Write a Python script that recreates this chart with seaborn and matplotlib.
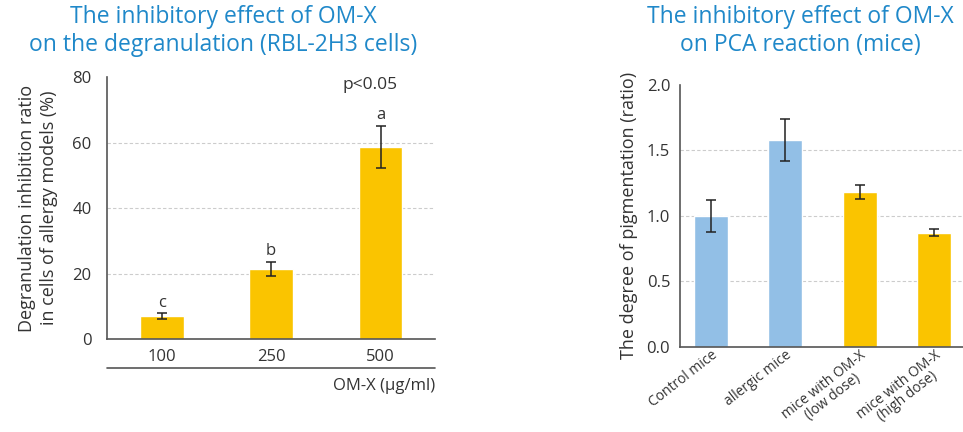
import matplotlib
matplotlib.use("Agg")
import matplotlib.pyplot as plt
import seaborn as sns
import pandas as pd
from matplotlib.lines import Line2D

# ---- data ----
doses = ["100", "250", "500"]
degran_values = [7.1, 21.5, 58.8]
degran_errors = [0.85, 2.1, 6.4]
degran_letters = ["c", "b", "a"]

groups = ["Control mice", "allergic mice", "mice with OM-X\n(low dose)", "mice with OM-X\n(high dose)"]
pig_values = [1.0, 1.578, 1.183, 0.873]
pig_errors = [0.125, 0.162, 0.051, 0.023]

BLUE = "#92bfe6"
GOLD = "#fac400"
TITLE_C = "#1f88c9"
TEXT_C = "#333333"
SPINE_C = "#555555"
group_colors = [BLUE, BLUE, GOLD, GOLD]

sns.set_theme(style="white")
plt.rcParams["font.family"] = ["Open Sans", "DejaVu Sans"]

fig = plt.figure(figsize=(9.63, 4.32), dpi=100)

# ---------- titles ----------
fig.text(223 / 963, 1 - 17 / 432, "The inhibitory effect of OM-X", ha="center", va="center",
         fontsize=16.5, color=TITLE_C)
fig.text(223 / 963, 1 - 45 / 432, "on the degranulation (RBL-2H3 cells)", ha="center", va="center",
         fontsize=16.5, color=TITLE_C)
fig.text(800 / 963, 1 - 17 / 432, "The inhibitory effect of OM-X", ha="center", va="center",
         fontsize=16.5, color=TITLE_C)
fig.text(800 / 963, 1 - 45 / 432, "on PCA reaction (mice)", ha="center", va="center",
         fontsize=16.5, color=TITLE_C)

# ---------- left panel ----------
ax1 = fig.add_axes([0.111, 0.2146, 0.341, 0.607])
df1 = pd.DataFrame({"dose": doses, "value": degran_values})
sns.barplot(data=df1, x="dose", y="value", color=GOLD, width=0.4,
            errorbar=None, saturation=1, ax=ax1, zorder=2)
ax1.errorbar(x=range(len(doses)), y=degran_values, yerr=degran_errors,
             fmt="none", ecolor="#222222", elinewidth=1.1, capsize=3.5,
             capthick=1.1, zorder=3)
ax1.set_ylim(0, 80)
ax1.set_xlim(-0.5, 2.5)
ax1.set_yticks([0, 20, 40, 60, 80])
for yv in [20, 40, 60]:
    ax1.axhline(yv, color="#cccccc", lw=0.8, ls=(0, (3, 2)), zorder=0)
for i, (v, e, l) in enumerate(zip(degran_values, degran_errors, degran_letters)):
    ax1.text(i, v + e + 3.2, l, ha="center", va="center", fontsize=12, color=TEXT_C)
ax1.text(1.9, 77.5, "p<0.05", ha="center", va="center", fontsize=12.5, color=TEXT_C)
ax1.set_xlabel("")
ax1.set_ylabel("Degranulation inhibition ratio\nin cells of allergy models (%)",
               fontsize=13, color=TEXT_C, labelpad=10, linespacing=1.3)
ax1.add_line(Line2D([0, 1], [-0.11, -0.11], transform=ax1.transAxes,
                    color=SPINE_C, lw=1.2, clip_on=False))
ax1.text(1.0, -0.18, "OM-X (\u03bcg/ml)", transform=ax1.transAxes,
         ha="right", va="center", fontsize=12, color=TEXT_C)

# ---------- right panel ----------
ax2 = fig.add_axes([0.706, 0.1975, 0.294, 0.6055])
df2 = pd.DataFrame({"group": groups, "value": pig_values})
sns.barplot(data=df2, x="group", y="value", hue="group", palette=group_colors,
            width=0.46, errorbar=None, saturation=1, legend=False, ax=ax2, zorder=2)
ax2.errorbar(x=range(len(groups)), y=pig_values, yerr=pig_errors,
             fmt="none", ecolor="#222222", elinewidth=1.1, capsize=3.5,
             capthick=1.1, zorder=3)
ax2.set_ylim(0, 2.0)
ax2.set_xlim(-0.42, 3.39)
ax2.set_yticks([0.0, 0.5, 1.0, 1.5, 2.0])
ax2.set_yticklabels(["0.0", "0.5", "1.0", "1.5", "2.0"])
for yv in [0.5, 1.0, 1.5]:
    ax2.axhline(yv, color="#cccccc", lw=0.8, ls=(0, (3, 2)), zorder=0)
ax2.set_xlabel("")
ax2.set_ylabel("The degree of pigmentation (ratio)", fontsize=13, color=TEXT_C, labelpad=6)

for ax in (ax1, ax2):
    for s in ["top", "right"]:
        ax.spines[s].set_visible(False)
    for s in ["left", "bottom"]:
        ax.spines[s].set_color(SPINE_C)
        ax.spines[s].set_linewidth(1.2)
    ax.tick_params(axis="both", length=0, labelsize=12, colors=TEXT_C, pad=7)
ax1.tick_params(axis="y", pad=11)

ax2.set_xticks(range(len(groups)))
ax2.set_xticklabels(groups, rotation=38, ha="right", rotation_mode="anchor",
                    multialignment="center", linespacing=0.95, fontsize=10)
ax2.tick_params(axis="x", pad=1)

fig.savefig("out.png", dpi=100)
